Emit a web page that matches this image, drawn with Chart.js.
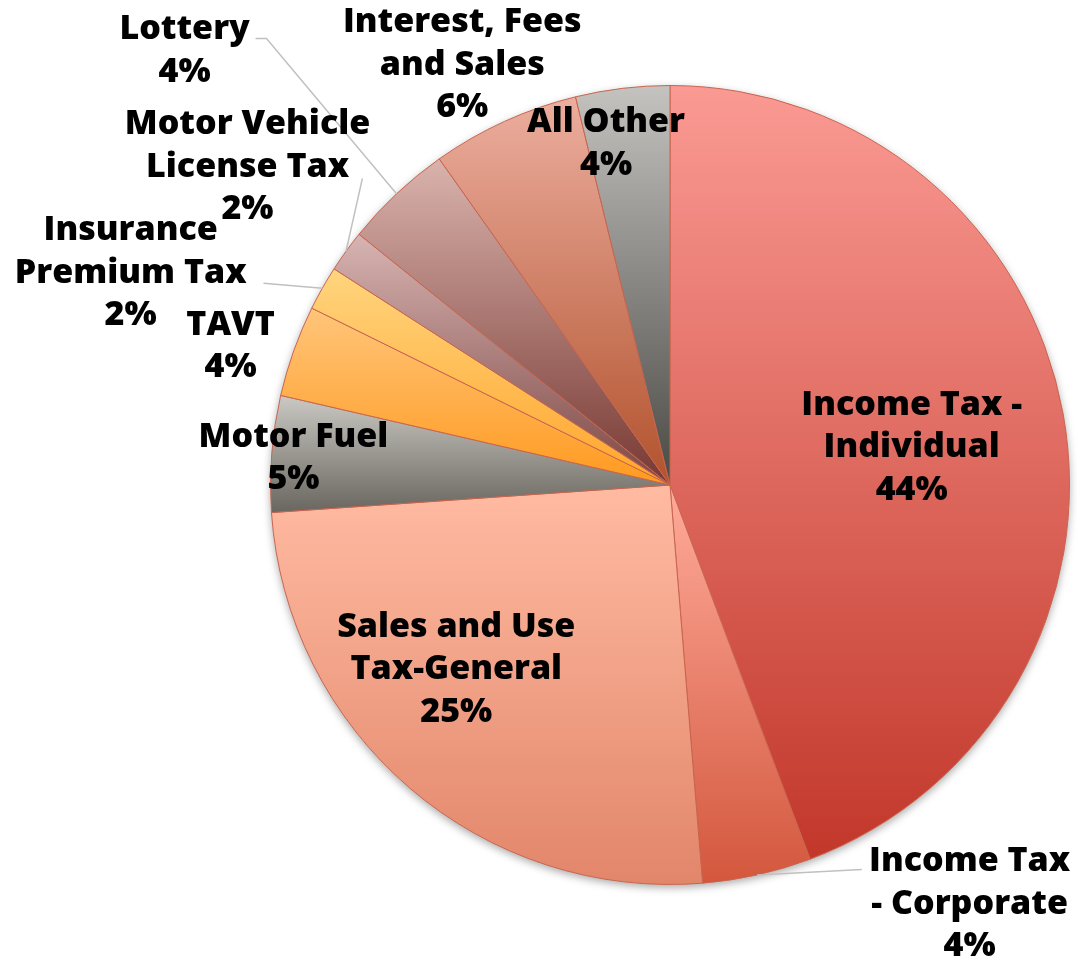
<!DOCTYPE html>
<html><head><meta charset="utf-8">
<script src="https://cdn.jsdelivr.net/npm/chart.js@4.4.1/dist/chart.umd.min.js"></script>
<style>html,body{margin:0;padding:0;background:#fff;overflow:hidden}#wrap{width:1077px;height:962px}</style>
</head><body><div id="wrap"><canvas id="c" width="1077" height="962"></canvas></div>
<script>
// ---- data ----
const categories = [
  "Income Tax - Individual", "Income Tax - Corporate", "Sales and Use Tax-General",
  "Motor Fuel", "TAVT", "Insurance Premium Tax", "Motor Vehicle License Tax",
  "Lottery", "Interest, Fees and Sales", "All Other"
];
const values = [44.3, 4.4, 25.2, 4.7, 3.7, 1.8, 1.7, 4.4, 6.0, 3.8];
const percentLabels = ["44%", "4%", "25%", "5%", "4%", "2%", "2%", "4%", "6%", "4%"];
const labelLines = [
  ["Income Tax -", "Individual"], ["Income Tax", "- Corporate"], ["Sales and Use", "Tax-General"],
  ["Motor Fuel"], ["TAVT"], ["Insurance", "Premium Tax"], ["Motor Vehicle", "License Tax"],
  ["Lottery"], ["Interest, Fees", "and Sales"], ["All Other"]
];

// ---- styles ----
const topColors = ["#fa9a93", "#ffab9b", "#ffbba2", "#cbc9c3", "#ffc57a", "#ffd57e", "#d7b4b2", "#dab3ad", "#ecae9f", "#c4c3c0"];
const bottomColors = ["#c2372a", "#d3573d", "#e2866a", "#68665e", "#ff9a1f", "#ffa52c", "#7c4643", "#773832", "#b2522d", "#4a4944"];
// label anchor (centre of first line) relative to the pie centre, in units of the radius
const labelAnchor = [
  [0.605, -0.20], [0.75, 0.9425], [-0.535, 0.355], [-0.9425, -0.12], [-1.10, -0.40],
  [-1.35, -0.6375], [-1.0575, -0.9025], [-1.215, -1.14], [-0.52, -1.1575], [-0.16, -0.9075]
];
// leader line bend points (same units); null = no leader
const leaders = [
  null, [[0.48, 0.9625]], null, null, null,
  [[-1.0175, -0.505]], [[-0.77, -0.7675]], [[-1.01, -1.1175], [-1.0375, -1.1175]], null, null
];
const LINE_H = 42.5;
const FONT = "800 34px 'Open Sans', Lato, sans-serif";

function sliceGradient(ctx) {
  if (ctx.type !== 'data') return 'transparent';
  const chart = ctx.chart, area = chart.chartArea, i = ctx.dataIndex;
  if (!area) return bottomColors[i];
  const cx = (area.left + area.right) / 2, cy = (area.top + area.bottom) / 2;
  const r = Math.min(area.right - area.left, area.bottom - area.top) / 2;
  const total = values.reduce((a, b) => a + b, 0);
  let start = -Math.PI / 2;
  for (let k = 0; k < i; k++) start += values[k] / total * 2 * Math.PI;
  const end = start + values[i] / total * 2 * Math.PI;
  const ys = [cy, cy + r * Math.sin(start), cy + r * Math.sin(end)];
  for (const a of [-Math.PI / 2, Math.PI / 2, 3 * Math.PI / 2]) {
    if (a > start + 1e-6 && a < end - 1e-6) ys.push(cy + r * Math.sin(a));
  }
  const y0 = Math.min(...ys), y1 = Math.max(...ys);
  const g = chart.ctx.createLinearGradient(0, y0, 0, y1);
  g.addColorStop(0, topColors[i]);
  g.addColorStop(1, bottomColors[i]);
  return g;
}

const shadowPlugin = {
  id: 'pieShadow',
  beforeDatasetsDraw(chart) {
    const el = chart.getDatasetMeta(0).data[0];
    if (!el) return;
    const c = chart.ctx;
    c.save();
    c.shadowColor = 'rgba(0,0,0,0.35)';
    c.shadowBlur = 8;
    c.shadowOffsetY = 3;
    c.fillStyle = '#ffffff';
    c.beginPath();
    c.arc(el.x, el.y, el.outerRadius, 0, Math.PI * 2);
    c.fill();
    c.restore();
  }
};

const labelPlugin = {
  id: 'sliceLabels',
  afterDatasetsDraw(chart) {
    const meta = chart.getDatasetMeta(0);
    const c = chart.ctx;
    const el0 = meta.data[0];
    const cx = el0.x, cy = el0.y, R = el0.outerRadius;
    c.save();
    // leader lines
    c.strokeStyle = '#c2c0bd';
    c.lineWidth = 1.5;
    meta.data.forEach((el, i) => {
      if (!leaders[i]) return;
      const mid = (el.startAngle + el.endAngle) / 2;
      c.beginPath();
      c.moveTo(el.x + el.outerRadius * Math.cos(mid), el.y + el.outerRadius * Math.sin(mid));
      leaders[i].forEach(p => c.lineTo(cx + p[0] * R, cy + p[1] * R));
      c.stroke();
    });
    // texts
    c.fillStyle = '#000000';
    c.font = FONT;
    c.textAlign = 'center';
    c.textBaseline = 'middle';
    meta.data.forEach((el, i) => {
      const x = cx + labelAnchor[i][0] * R;
      let y = cy + labelAnchor[i][1] * R;
      const lines = labelLines[i].concat([percentLabels[i]]);
      lines.forEach((t, k) => c.fillText(t, x, y + k * LINE_H));
    });
    c.restore();
  }
};

new Chart(document.getElementById('c'), {
  type: 'pie',
  data: {
    labels: categories,
    datasets: [{
      data: values,
      backgroundColor: sliceGradient,
      borderColor: '#c8644e',
      borderWidth: 1
    }]
  },
  options: {
    responsive: false,
    animation: false,
    events: [],
    layout: { padding: { left: 270, right: 7, top: 85, bottom: 77 } },
    plugins: { legend: { display: false }, tooltip: { enabled: false } }
  },
  plugins: [shadowPlugin, labelPlugin]
});
</script>
</body></html>
